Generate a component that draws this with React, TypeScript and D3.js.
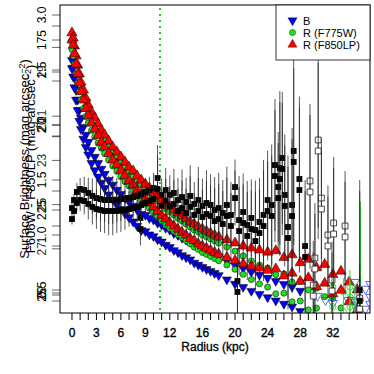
import React from "react";
import * as d3 from "d3";

// shared radial grid (kpc)
const radius = [0, 0.15, 0.3, 0.5, 0.7, 0.9, 1.1, 1.4, 1.7, 2.0, 2.4, 2.8, 3.2, 3.6, 4.0, 4.5, 5.0, 5.5, 6.0, 6.5,
  7.0, 7.5, 8.0, 8.5, 9.0, 9.5, 10, 10.5, 11, 11.5, 12, 12.5, 13, 13.5, 14, 14.5, 15, 15.5, 16, 16.5,
  17, 17.5, 18, 19, 20, 21, 22, 23, 24, 25, 26, 27, 28, 29, 30, 31, 32, 33, 34, 35];

// surface brightness profiles (mag arcsec^-2)
const bMag = [18.09, 18.32, 18.62, 18.97, 19.26, 19.56, 19.79, 20.06, 20.29, 20.5, 20.74, 20.94, 21.12, 21.29, 21.44, 21.62, 21.76, 21.91, 22.03, 22.15,
  22.26, 22.38, 22.5, 22.62, 22.65, 22.74, 22.79, 22.88, 22.94, 23.03, 23.09, 23.18, 23.24, 23.32, 23.38, 23.44, 23.53, 23.59, 23.65, 23.71,
  23.76, 23.82, 23.88, 24.0, 24.12, 24.21, 24.32, 24.41, 24.5, 24.59, 24.68, 24.76, 24.88];
const r775Mag = [17.56, 17.74, 17.97, 18.24, 18.5, 18.74, 18.97, 19.21, 19.44, 19.62, 19.82, 20.0, 20.18, 20.32, 20.47, 20.65, 20.82, 20.97, 21.12, 21.26,
  21.38, 21.53, 21.65, 21.76, 21.88, 22.0, 22.12, 22.24, 22.35, 22.47, 22.56, 22.65, 22.74, 22.82, 22.91, 23.0, 23.09, 23.15, 23.24, 23.29,
  23.35, 23.41, 23.47, 23.59, 23.71, 23.85, 24.0, 24.12, 24.21, 24.4, 24.38, 24.62, 24.6, 24.85, 24.8, 25.05, 25.1, 25.38];
const r850Mag = [17.29, 17.44, 17.68, 17.97, 18.24, 18.5, 18.74, 18.97, 19.21, 19.41, 19.62, 19.79, 19.97, 20.15, 20.29, 20.47, 20.65, 20.79, 20.94, 21.09,
  21.24, 21.35, 21.5, 21.62, 21.74, 21.85, 21.97, 22.09, 22.21, 22.29, 22.41, 22.5, 22.59, 22.68, 22.76, 22.85, 22.91, 23.0, 23.06, 23.12,
  23.18, 23.24, 23.29, 23.38, 23.47, 23.56, 23.62, 23.68, 23.74, 23.7, 23.9, 23.82, 24.05, 23.95, 24.2, 24.1, 24.4, 24.3, 24.62, 24.85];

// low S/N outer points (open symbols)
const bOpenR = [30.1, 31.1, 32.0, 33.9, 34.7, 35.1, 34.9, 36.0, 36.6, 36.6];
const bOpenMag = [25.03, 25.15, 25.24, 25.15, 24.62, 24.88, 25.15, 24.82, 24.68, 25.06];
const gOpenR = [32.0, 33.3, 34.1, 34.1, 34.7, 35.4];
const gOpenMag = [24.76, 24.91, 24.76, 25.06, 25.29, 25.15];
const gOpenErr = [0.3, 0.4, 0.5, 0.5, 0.6, 2.9];

// colour profile (filled squares) with errors
const colR = [0, 0.25, 0.6, 1.0, 1.5, 2.0, 2.5, 3.0, 3.5, 4.0, 4.5, 5.0, 5.5, 6.0, 6.5, 7.0, 7.5, 8.0, 8.5, 9.0,
  9.5, 10.0, 10.5, 11.0, 11.5, 12.0, 12.5, 13.0, 13.5, 14.0, 14.5, 15.0, 15.5, 16.0, 16.5, 17.0, 17.5, 18.0, 18.5, 19.0,
  19.5, 20.0, 20.5, 21.0, 21.5, 22.0, 22.5, 23.0, 23.5, 24.0, 24.5, 24.9, 25.3, 25.5, 25.8, 26.1, 26.5, 27.0, 27.2, 27.9,
  28.6, 8.4, 20.3, 35.3];
const colVal = [1.245, 1.318, 1.391, 1.418, 1.409, 1.382, 1.355, 1.336, 1.327, 1.318, 1.318, 1.318, 1.318, 1.327, 1.327, 1.336, 1.345, 1.355, 1.373, 1.391,
  1.409, 1.427, 1.518, 1.364, 1.409, 1.364, 1.382, 1.318, 1.345, 1.3, 1.355, 1.282, 1.318, 1.264, 1.291, 1.273, 1.227, 1.245, 1.2, 1.273,
  1.182, 1.436, 1.136, 1.209, 1.091, 1.155, 1.045, 1.118, 1.182, 1.318, 1.273, 1.636, 1.436, 1.609, 1.7, 1.364, 1.073, 1.273, 1.764, 1.509,
  0.9, 1.155, 0.582, 0.5];
const colErr = [0.05, 0.06, 0.08, 0.1, 0.12, 0.14, 0.16, 0.18, 0.2, 0.2, 0.22, 0.22, 0.2, 0.2, 0.18, 0.16, 0.15, 0.14, 0.12, 0.12,
  0.12, 0.14, 0.3, 0.15, 0.2, 0.18, 0.22, 0.2, 0.25, 0.22, 0.28, 0.2, 0.3, 0.25, 0.3, 0.28, 0.3, 0.32, 0.3, 0.35,
  0.3, 0.25, 0.4, 0.35, 0.4, 0.35, 0.45, 0.4, 0.5, 0.45, 0.55, 0.6, 0.5, 0.7, 0.6, 0.55, 0.65, 0.7, 0.85, 0.75,
  0.6, 0.15, 0.3, 1.0];
const colOpenR = [30.2, 29.2, 30.6, 32.1, 33.5, 31.4, 29.8, 29.6, 31.9, 35.3];
const colOpenVal = [1.864, 1.491, 1.336, 1.109, 1.082, 1.0, 0.791, 0.545, 0.591, 0.427];
const colOpenErr = [0.8, 0.7, 0.55, 0.6, 0.5, 0.45, 0.5, 0.4, 0.35, 0.3];

const effRadius = 10.8;

const xTicks = d3.range(0, 37);
const xLabels = [0, 3, 6, 9, 12, 16, 20, 24, 28, 32];
const colLabels = [3.0, 2.5, 2.0, 1.5, 1.0, 0.5];
const magLabels = [17.5, 20, 22.5, 25];
const mag2Labels = [19, 21, 23, 25, 27, 29];

const legendItems = ["B", "R (F775W)", "R (F850LP)"];
const legendColors = ["#0000ee", "#22dd22", "#ff0000"];

export default function App() {
  const left = 60, right = 370, top = 5, bottom = 313;
  const x = d3.scaleLinear().domain([-1.47, 36.56]).range([left, right]);
  const magA = d3.scaleLinear().domain([17.5, 25]).range([40, 295]);
  const magB = d3.scaleLinear().domain([17.5, 25]).range([47.4, 315.3]);
  const colA = d3.scaleLinear().domain([3, 0.5]).range([15, 290]);
  const colB = d3.scaleLinear().domain([3, 0.5]).range([26, 301]);
  const mag2 = d3.scaleLinear().domain([19, 29]).range([72, 293]);
  const panels = [{ mag: magA, col: colA }, { mag: magB, col: colB }];

  const tri = d3.symbol().type(d3.symbolTriangle).size(46)()!;
  const triB = d3.symbol().type(d3.symbolTriangle).size(36)()!;
  const circ = d3.symbol().type(d3.symbolCircle).size(30)()!;
  const sq = d3.symbol().type(d3.symbolSquare).size(34)()!;

  const font = "Liberation Sans, Arial, sans-serif";
  const yTickPos = [
    ...colLabels.map((d) => colA(d)), ...colLabels.map((d) => colB(d)),
    ...magLabels.map((d) => magA(d)), ...magLabels.map((d) => magB(d)).filter((d) => d < bottom),
    ...mag2Labels.map((d) => mag2(d)),
  ];

  return (
    <svg width={374} height={374} style={{ position: "absolute", left: 0, top: 0, background: "#fff" }} fontFamily={font}>
      <defs>
        <clipPath id="plot"><rect x={left} y={top} width={right - left} height={bottom - top} /></clipPath>
      </defs>

      <g clipPath="url(#plot)">
        <line x1={x(effRadius)} x2={x(effRadius)} y1={top + 3} y2={bottom} stroke="#1fcf1f" strokeWidth={2} strokeDasharray="2 4" />

        {panels.map((p, pi) => (
          <g key={"c" + pi}>
            {bMag.map((m, i) => (
              <path key={"b" + i} d={triB} transform={`translate(${x(radius[i])},${p.mag(m)}) rotate(180)`} fill="#0000ee" stroke="#000" strokeWidth={0.5} />
            ))}
            {r775Mag.map((m, i) => (
              <path key={"g" + i} d={circ} transform={`translate(${x(radius[i])},${p.mag(m)})`} fill="#22dd22" stroke="#000" strokeWidth={0.5} />
            ))}
            {r850Mag.map((m, i) => (
              <path key={"r" + i} d={tri} transform={`translate(${x(radius[i])},${p.mag(m)})`} fill="#ff0000" stroke="#000" strokeWidth={0.5} />
            ))}
            {bOpenMag.map((m, i) => (
              <path key={"bo" + i} d={triB} transform={`translate(${x(bOpenR[i])},${p.mag(m)}) rotate(180)`} fill="none" stroke="#3344ff" strokeWidth={0.8} />
            ))}
            {gOpenMag.map((m, i) => (
              <g key={"go" + i}>
                <line x1={x(gOpenR[i])} x2={x(gOpenR[i])} y1={p.mag(m - gOpenErr[i])} y2={p.mag(m + gOpenErr[i])} stroke="#33dd33" strokeWidth={1} />
                <path d={circ} transform={`translate(${x(gOpenR[i])},${p.mag(m)})`} fill="none" stroke="#22cc22" strokeWidth={0.8} />
              </g>
            ))}
          </g>
        ))}

        {panels.map((p, pi) => (
          <g key={"k" + pi}>
            {colVal.map((c, i) => (
              <line key={"e" + i} x1={x(colR[i])} x2={x(colR[i])} y1={p.col(c + colErr[i])} y2={p.col(c - colErr[i])} stroke="#222" strokeWidth={1} strokeOpacity={0.75} />
            ))}
            {colOpenVal.map((c, i) => (
              <line key={"oe" + i} x1={x(colOpenR[i])} x2={x(colOpenR[i])} y1={p.col(c + colOpenErr[i])} y2={p.col(c - colOpenErr[i])} stroke="#222" strokeWidth={1} strokeOpacity={0.75} />
            ))}
            {colVal.map((c, i) => (
              <path key={"s" + i} d={sq} transform={`translate(${x(colR[i])},${p.col(c)})`} fill="#000" />
            ))}
            {colOpenVal.map((c, i) => (
              <path key={"os" + i} d={sq} transform={`translate(${x(colOpenR[i])},${p.col(c)})`} fill="#fff" stroke="#333" strokeWidth={0.9} />
            ))}
          </g>
        ))}
      </g>

      <rect x={left} y={top} width={right - left} height={bottom - top} fill="none" stroke="#000" strokeWidth={1} />

      {/* x axis */}
      {xTicks.map((t) => (
        <line key={"xt" + t} x1={x(t)} x2={x(t)} y1={bottom} y2={bottom + 7} stroke="#000" strokeWidth={1} />
      ))}
      {xLabels.map((t) => (
        <text key={"xl" + t} x={x(t)} y={337} textAnchor="middle" fontSize={12} stroke="#000" strokeWidth={0.35}>{t}</text>
      ))}
      <text x={(left + right) / 2} y={351} textAnchor="middle" fontSize={12} stroke="#000" strokeWidth={0.3}>Radius (kpc)</text>

      {/* overlaid y axes */}
      {yTickPos.map((y, i) => (
        <line key={"yt" + i} x1={52} x2={left} y1={y} y2={y} stroke="#000" strokeOpacity={0.6} strokeWidth={1} />
      ))}
      {colLabels.map((d) => (
        <text key={"cl" + d} transform={`translate(46,${colA(d)}) rotate(-90)`} textAnchor="middle" fontSize={12}>{d.toFixed(1)}</text>
      ))}
      {magLabels.map((d) => (
        <text key={"ml" + d} transform={`translate(46,${magA(d)}) rotate(-90)`} textAnchor="middle" fontSize={12}>{String(d).replace(".", "")}</text>
      ))}
      {mag2Labels.map((d) => (
        <text key={"m2" + d} transform={`translate(46,${mag2(d)}) rotate(-90)`} textAnchor="middle" fontSize={12} fillOpacity={0.85}>{d}</text>
      ))}
      <text transform={`translate(29,${(top + bottom) / 2}) rotate(-90)`} textAnchor="middle" fontSize={13}>
        Surface Brightness (mag arcsec<tspan dy={-4} fontSize={9}>−2</tspan><tspan dy={4}>)</tspan>
      </text>
      <text transform={`translate(35,${(top + bottom) / 2}) rotate(-90)`} textAnchor="middle" fontSize={13}>
        F606W - F850LP (mag arcsec<tspan dy={-4} fontSize={9}>−2</tspan><tspan dy={4}>)</tspan>
      </text>

      {/* legend */}
      <rect x={276} y={top} width={right - 276} height={55} fill="#fff" stroke="#000" strokeWidth={0.8} />
      {legendItems.map((name, i) => {
        const ly = 20.5 + i * 12;
        const sym = i === 1 ? circ : triB;
        const rot = i === 0 ? " rotate(180)" : "";
        return (
          <g key={name}>
            <path d={sym} transform={`translate(292.5,${ly})${rot}`} fill={legendColors[i]} stroke="#000" strokeWidth={0.4} />
            <text x={303} y={ly + 4} fontSize={11}>{name}</text>
          </g>
        );
      })}
    </svg>
  );
}
